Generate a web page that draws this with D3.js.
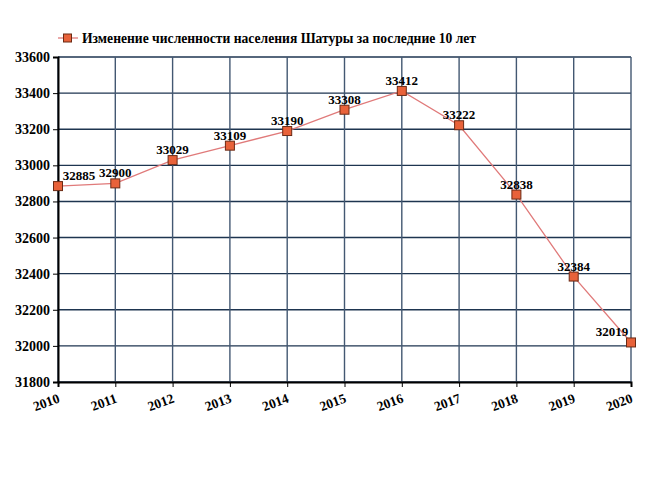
<!DOCTYPE html>
<html>
<head>
<meta charset="utf-8">
<script src="https://cdn.jsdelivr.net/npm/d3@7"></script>
<style>
  body { margin: 0; background: #fff; }
  svg text { font-family: "Liberation Serif", "Times New Roman", serif; font-weight: bold; }
</style>
</head>
<body>
<div id="chart"></div>
<script>
// data
var years = [2010, 2011, 2012, 2013, 2014, 2015, 2016, 2017, 2018, 2019, 2020];
var population = [32885, 32900, 33029, 33109, 33190, 33308, 33412, 33222, 32838, 32384, 32019];
var yTicks = [31800, 32000, 32200, 32400, 32600, 32800, 33000, 33200, 33400, 33600];
var seriesName = "Изменение численности населения Шатуры за последние 10 лет";

var svgWidth = 650, svgHeight = 478;
var margin = {top: 57, right: 19, bottom: 96, left: 58},
    width = svgWidth - margin.left - margin.right,
    height = svgHeight - margin.top - margin.bottom;

var svg = d3.select("#chart")
  .append("svg")
    .attr("width", svgWidth)
    .attr("height", svgHeight);

var g = svg.append("g")
  .attr("transform", "translate(" + margin.left + "," + margin.top + ")");

var x = d3.scaleLinear()
  .domain([2010, 2020])
  .range([0, width]);

var y = d3.scaleLinear()
  .domain([31800, 33600])
  .range([height, 0]);

// grid
g.append("g")
  .selectAll("line")
  .data(yTicks)
  .join("line")
    .attr("x1", 0).attr("x2", width)
    .attr("y1", d => y(d)).attr("y2", d => y(d))
    .attr("stroke", "#1e3550")
    .attr("stroke-width", 1.4);

g.append("g")
  .selectAll("line")
  .data(years)
  .join("line")
    .attr("x1", d => x(d)).attr("x2", d => x(d))
    .attr("y1", 0).attr("y2", height)
    .attr("stroke", "#435872")
    .attr("stroke-width", 1.4);

// axes
var yAxis = g.append("g")
  .call(d3.axisLeft(y).tickValues(yTicks).tickSize(5).tickPadding(3).tickFormat(d3.format("d")));
yAxis.select(".domain").attr("stroke", "#000").attr("stroke-width", 2);
yAxis.selectAll(".tick line").attr("stroke", "#000");
yAxis.selectAll("text").style("font-size", "14px").attr("fill", "#000");

var xAxis = g.append("g")
  .attr("transform", "translate(0," + height + ")")
  .call(d3.axisBottom(x).tickValues(years).tickSize(5).tickFormat(d3.format("d")));
xAxis.select(".domain").attr("stroke", "#000").attr("stroke-width", 2);
xAxis.selectAll(".tick line").attr("stroke", "#000");
xAxis.selectAll("text")
  .style("font-size", "13.5px")
  .attr("fill", "#000")
  .attr("text-anchor", "end")
  .attr("dy", null)
  .attr("y", 0)
  .attr("transform", "translate(2,20) rotate(-20)");

// line
var line = d3.line()
  .x((d, i) => x(years[i]))
  .y(d => y(d));

g.append("path")
  .datum(population)
  .attr("fill", "none")
  .attr("stroke", "#e07a7a")
  .attr("stroke-width", 1.3)
  .attr("d", line);

// markers
g.append("g")
  .selectAll("rect")
  .data(population)
  .join("rect")
    .attr("x", (d, i) => x(years[i]) - 4.5)
    .attr("y", d => y(d) - 4.5)
    .attr("width", 9)
    .attr("height", 9)
    .attr("fill", "#e8623a")
    .attr("stroke", "#6b2a14")
    .attr("stroke-width", 1);

// value labels, kept inside the plot area
g.append("g")
  .selectAll("text")
  .data(population)
  .join("text")
    .attr("x", function(d, i) {
      var cx = x(years[i]);
      return Math.min(Math.max(cx, 21), width - 19);
    })
    .attr("y", d => y(d) - 6)
    .attr("text-anchor", "middle")
    .style("font-size", "13px")
    .attr("fill", "#000")
    .text(d => d);

// legend
var legend = svg.append("g")
  .attr("transform", "translate(58,38)");
legend.append("line")
  .attr("x1", 0).attr("x2", 20)
  .attr("y1", 0).attr("y2", 0)
  .attr("stroke", "#e07a7a")
  .attr("stroke-width", 1.3);
legend.append("rect")
  .attr("x", 5.5).attr("y", -4)
  .attr("width", 8).attr("height", 8)
  .attr("fill", "#e8623a")
  .attr("stroke", "#6b2a14");
legend.append("text")
  .attr("x", 24)
  .attr("y", 5)
  .style("font-size", "13.6px")
  .attr("fill", "#000")
  .text(seriesName);
</script>
</body>
</html>
